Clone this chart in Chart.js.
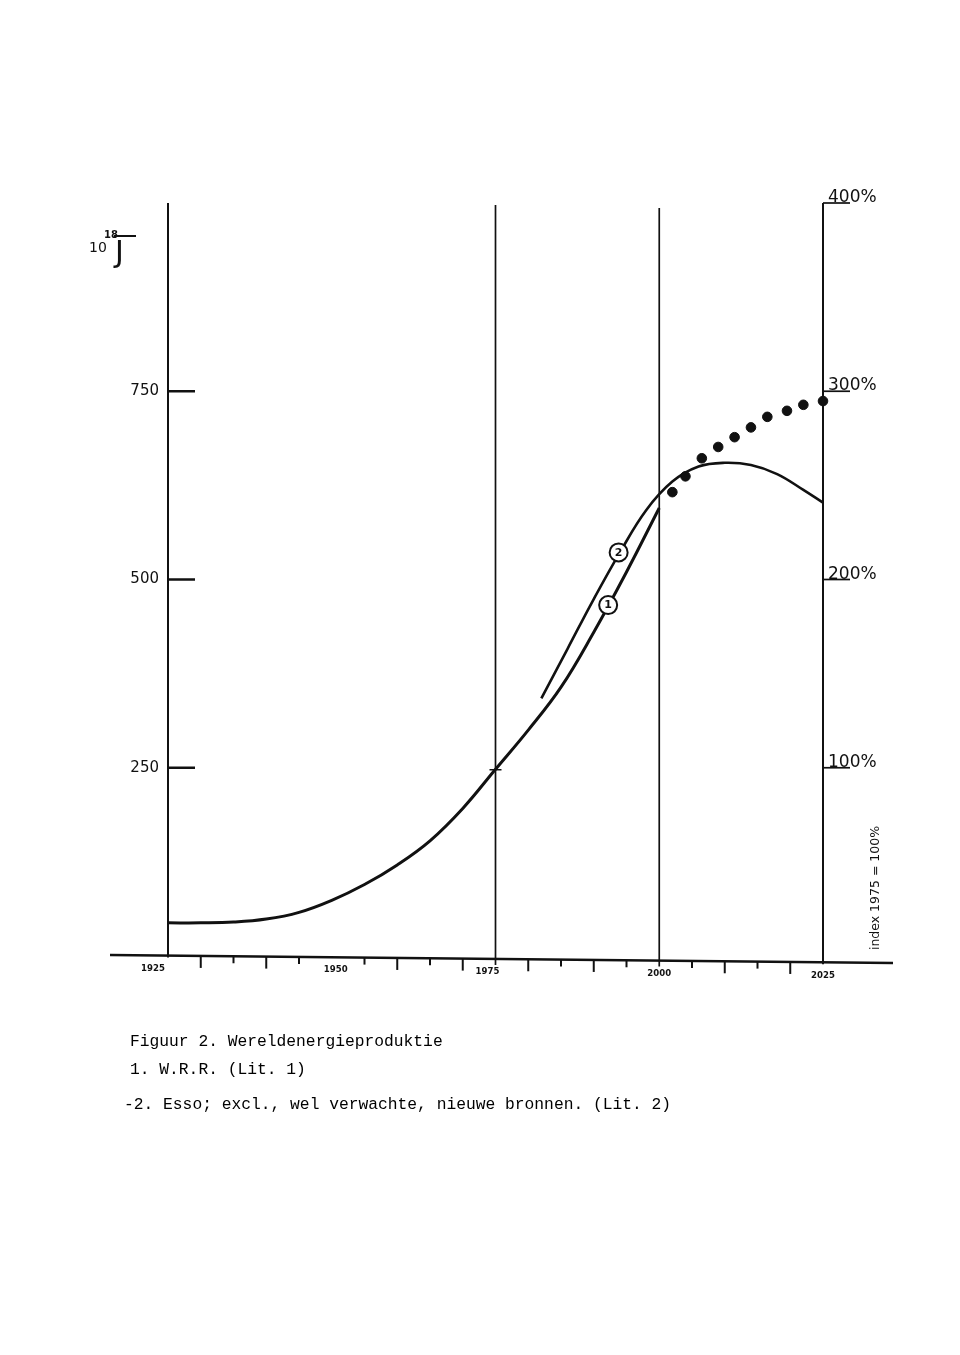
<!DOCTYPE html>
<html>
<head>
<meta charset="utf-8">
<script src="https://cdn.jsdelivr.net/npm/chart.js@4.4.1/dist/chart.umd.min.js"></script>
<style>
  html, body { margin: 0; padding: 0; background: #fff; }
  #wrap { position: relative; width: 960px; height: 1355px; overflow: hidden; }
  #c { position: absolute; left: 0; top: 0; }
  .cap { position: absolute; font-family: "Liberation Mono", "DejaVu Sans Mono", monospace; font-size: 16.3px; color: #000; white-space: pre; line-height: 1; }
</style>
</head>
<body>
<div id="wrap">
  <canvas id="c" width="960" height="1355"></canvas>
  <div class="cap" style="left:130px; top:1034px;">Figuur 2. Wereldenergieproduktie</div>
  <div class="cap" style="left:130px; top:1062px;">1. W.R.R. (Lit. 1)</div>
  <div class="cap" style="left:124px; top:1097px;">-2. Esso; excl., wel verwachte, nieuwe bronnen. (Lit. 2)</div>
</div>
<script>
// ---- data (10^18 J) ----
const wrrYears   = [1925,1930,1935,1940,1945,1950,1955,1960,1965,1970,1975,1980,1985,1990,1995,2000];
const wrrValues  = [44,44,45,49,58,74,95,121,153,196,248,300,357,430,510,595];
const wrrDotYears  = [2002,2004,2006.5,2009,2011.5,2014,2016.5,2019.5,2022,2025];
const wrrDotValues = [616,637,661,676,689,702,716,724,732,737];
const essoYears  = [1982,1986,1990,1994,1998,2002,2006,2010,2014,2018,2022,2025];
const essoValues = [342,408,474,536,592,630,650,655,652,640,619,602];

const xLabelYears = [1925,1950,1975,2000,2025];
const xMinorTicks = [1930,1935,1940,1945,1955,1960,1965,1970,1980,1985,1990,1995,2005,2010,2015,2020];
const xFullLines  = [1975,2000];
const yTickValues = [250,500,750];
const yTickLabels = ["250","500","750"];
const pctTicks    = [100,200,300,400];
const pctLabels   = ["100%","200%","300%","400%"];
const indexBase   = 250; // 1975 = 100%
const curveLabels = [{ text: "1", x: 1992.2, y: 466 }, { text: "2", x: 1993.8, y: 536 }];

const pts = (xs, ys) => xs.map((x, i) => ({ x, y: ys[i] }));
const INK = '#111';

// axis baseline (slightly skewed as in the scan)
const axisY = px => 955 + (px - 110) * (8 / 783);

const decor = {
  id: 'decor',
  beforeDatasetsDraw(chart) {
    const ctx = chart.ctx, xs = chart.scales.x, ys = chart.scales.y;
    const top = ys.getPixelForValue(1000);
    ctx.save();
    ctx.strokeStyle = INK; ctx.fillStyle = INK; ctx.lineCap = 'butt';
    // bottom axis
    ctx.lineWidth = 2.5;
    ctx.beginPath(); ctx.moveTo(110, axisY(110)); ctx.lineTo(893, axisY(893)); ctx.stroke();
    // minor ticks
    ctx.lineWidth = 2;
    xMinorTicks.forEach(v => {
      const p = xs.getPixelForValue(v);
      const len = (v % 10 === 0) ? 12 : 7;
      ctx.beginPath(); ctx.moveTo(p, axisY(p)); ctx.lineTo(p, axisY(p) + len); ctx.stroke();
    });
    // left & right axes
    ctx.lineWidth = 2;
    const xl = xs.getPixelForValue(1925), xr = xs.getPixelForValue(2025);
    ctx.beginPath(); ctx.moveTo(xl, top); ctx.lineTo(xl, axisY(xl) + 2); ctx.stroke();
    ctx.beginPath(); ctx.moveTo(xr, top); ctx.lineTo(xr, axisY(xr) + 2); ctx.stroke();
    // full-height lines at 1975, 2000
    ctx.lineWidth = 1.7;
    xFullLines.forEach((v, i) => {
      const p = xs.getPixelForValue(v);
      ctx.beginPath(); ctx.moveTo(p, top + 2 + i * 3); ctx.lineTo(p, axisY(p) + 6); ctx.stroke();
    });
    // left ticks + labels
    ctx.lineWidth = 2.5;
    ctx.font = '15px "DejaVu Sans", sans-serif';
    ctx.textAlign = 'right'; ctx.textBaseline = 'middle';
    yTickValues.forEach((v, i) => {
      const p = ys.getPixelForValue(v);
      ctx.beginPath(); ctx.moveTo(xl, p); ctx.lineTo(xl + 27, p); ctx.stroke();
      ctx.fillText(yTickLabels[i], 159, p);
    });
    // unit label 10^18 J
    ctx.textAlign = 'left'; ctx.textBaseline = 'alphabetic';
    ctx.font = '14px "DejaVu Sans", sans-serif';
    ctx.fillText('10', 89, 252);
    ctx.font = 'bold 10px "DejaVu Sans", sans-serif';
    ctx.fillText('18', 104, 238);
    ctx.lineWidth = 2;
    ctx.beginPath(); ctx.moveTo(114, 236); ctx.lineTo(136, 236); ctx.stroke();
    ctx.font = '30px "DejaVu Sans", sans-serif';
    ctx.fillText('J', 115, 262);
    // right % ticks + labels
    ctx.lineWidth = 1.7;
    ctx.font = '17px "DejaVu Sans", sans-serif';
    pctTicks.forEach((v, i) => {
      const p = ys.getPixelForValue(v / 100 * indexBase);
      ctx.beginPath(); ctx.moveTo(xr, p); ctx.lineTo(xr + 27, p); ctx.stroke();
      ctx.fillText(pctLabels[i], xr + 5, p - 1);
    });
    // rotated index note
    ctx.save();
    ctx.translate(879, 888); ctx.rotate(-Math.PI / 2);
    ctx.font = '12.5px "DejaVu Sans", sans-serif';
    ctx.textAlign = 'center'; ctx.textBaseline = 'alphabetic';
    ctx.fillText('index 1975 = 100%', 0, 0);
    ctx.restore();
    // x labels
    ctx.font = 'bold 9.5px "DejaVu Sans Condensed", "DejaVu Sans", sans-serif';
    ctx.textAlign = 'center'; ctx.textBaseline = 'top';
    const off = [-15, 4, -8, 0, 0];
    xLabelYears.forEach((v, i) => {
      const p = xs.getPixelForValue(v);
      ctx.fillText(String(v), p + off[i], axisY(p) + 8);
    });
    ctx.restore();
  },
  afterDatasetsDraw(chart) {
    const ctx = chart.ctx, xs = chart.scales.x, ys = chart.scales.y;
    ctx.save();
    // small cross at 1975 / 100%
    const cx = xs.getPixelForValue(1975), cy = ys.getPixelForValue(indexBase) + 2;
    ctx.strokeStyle = INK; ctx.lineWidth = 1.5;
    ctx.beginPath(); ctx.moveTo(cx - 6, cy); ctx.lineTo(cx + 6, cy); ctx.stroke();
    // curve number circles
    curveLabels.forEach(l => {
      const px = xs.getPixelForValue(l.x), py = ys.getPixelForValue(l.y);
      ctx.beginPath(); ctx.arc(px, py, 9, 0, Math.PI * 2);
      ctx.fillStyle = '#fff'; ctx.fill();
      ctx.lineWidth = 2; ctx.strokeStyle = INK; ctx.stroke();
      ctx.fillStyle = INK; ctx.font = 'bold 11px "DejaVu Sans", sans-serif';
      ctx.textAlign = 'center'; ctx.textBaseline = 'middle';
      ctx.fillText(l.text, px, py + 0.5);
    });
    ctx.restore();
  }
};

new Chart(document.getElementById('c'), {
  type: 'line',
  data: {
    datasets: [
      { label: 'W.R.R.', data: pts(wrrYears, wrrValues), borderColor: INK, borderWidth: 3,
        pointRadius: 0, tension: 0.4, fill: false, clip: false },
      { label: 'W.R.R. (verwacht)', data: pts(wrrDotYears, wrrDotValues), showLine: false,
        pointRadius: 4.8, pointStyle: 'circle', pointBackgroundColor: INK, pointBorderColor: INK,
        pointBorderWidth: 1, clip: false },
      { label: 'Esso', data: pts(essoYears, essoValues), borderColor: INK, borderWidth: 2.6,
        pointRadius: 0, tension: 0.4, fill: false, clip: false }
    ]
  },
  options: {
    responsive: false, animation: false, devicePixelRatio: 1,
    layout: { padding: { left: 168, right: 137, top: 203, bottom: 399 } },
    scales: {
      x: { type: 'linear', min: 1925, max: 2025, display: false },
      y: { type: 'linear', min: 0, max: 1000, display: false }
    },
    plugins: { legend: { display: false }, tooltip: { enabled: false } },
    events: []
  },
  plugins: [decor]
});
</script>
</body>
</html>
